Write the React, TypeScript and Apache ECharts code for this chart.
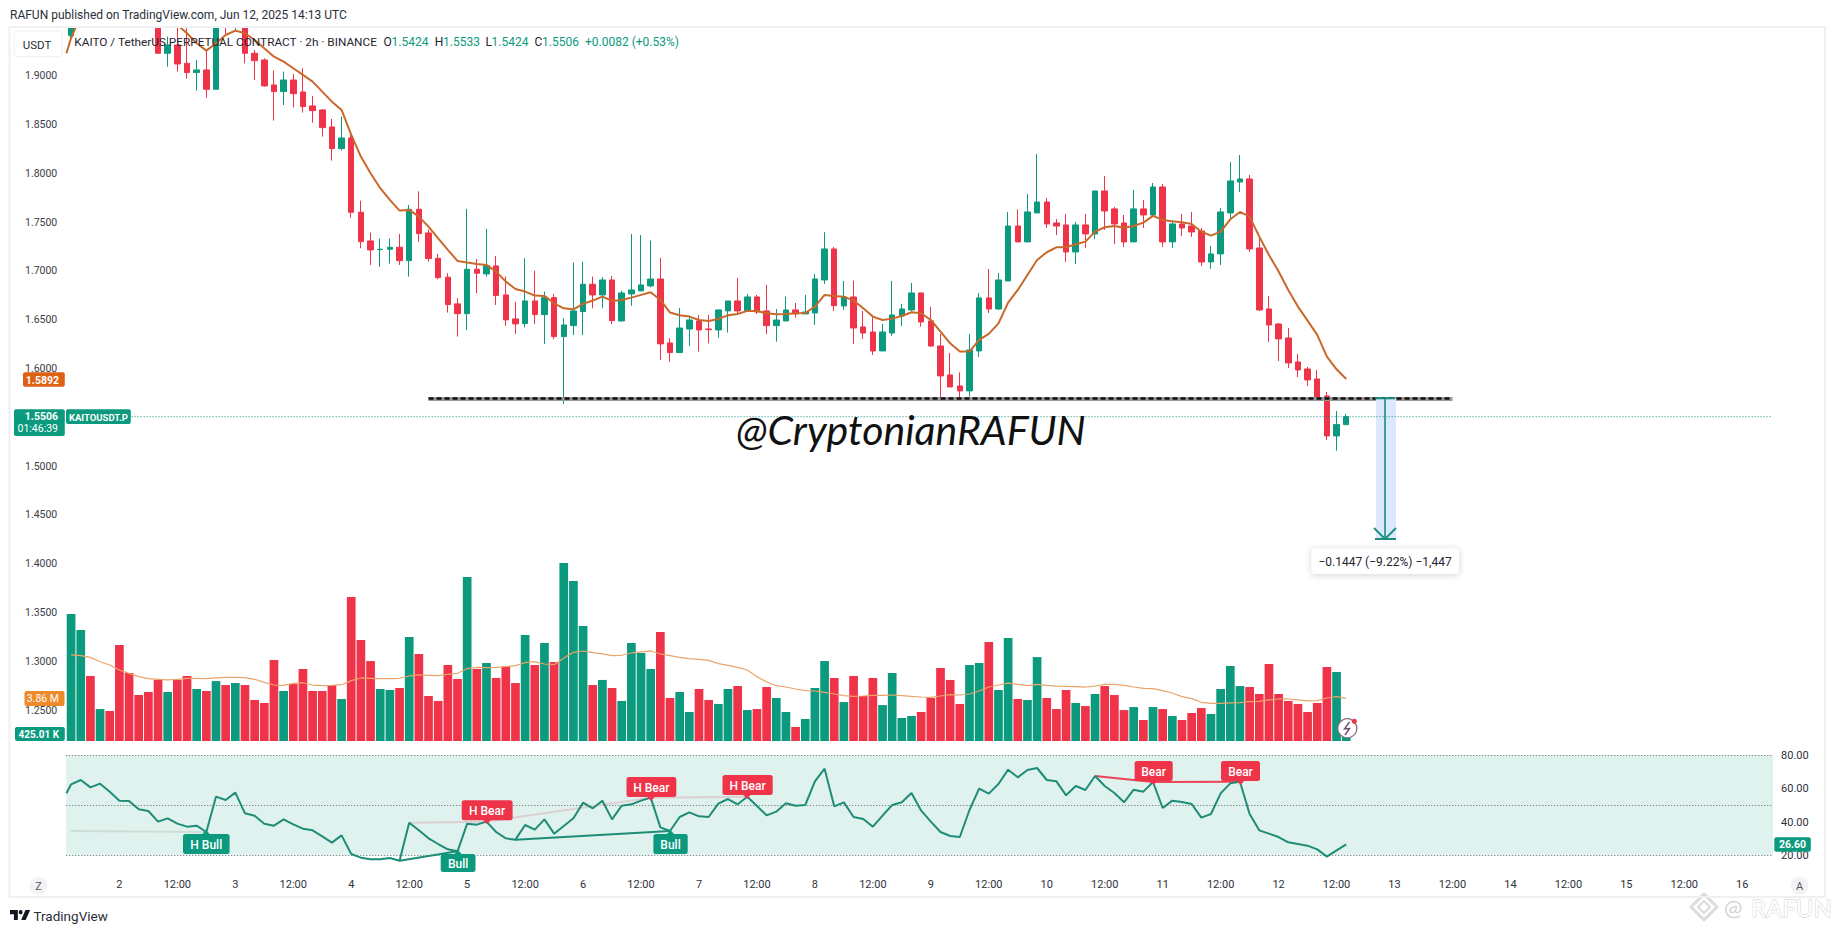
import React, { useEffect, useRef } from "react";
import * as echarts from "echarts";

const UP = "#0b9a7e";
const DOWN = "#ef3349";
const TOTAL_SLOTS = 177;

// [open, close, low, high]
const candles: number[][] = [
  [1.941,1.97,1.936,1.975],[1.97,1.99,1.965,1.995],[1.99,1.985,1.98,2.0],[1.985,2.0,1.98,2.01],[2.0,1.995,1.985,2.01],
  [1.995,1.99,1.98,2.0],[1.99,1.985,1.975,1.995],[1.985,1.98,1.97,1.99],[1.98,1.97,1.96,1.985],[1.97,1.9229,1.9229,1.975],
  [1.9229,1.9314,1.9092,1.9399],[1.9314,1.9119,1.9041,1.957],[1.9126,1.9031,1.8969,1.9485],[1.9031,1.9058,1.8846,1.916],[1.9058,1.886,1.8774,1.9263],
  [1.886,1.96,1.886,1.97],[1.97,1.96,1.9423,1.98],[1.955,1.965,1.9451,1.975],[1.965,1.9229,1.9126,1.97],[1.9229,1.9153,1.8955,1.9263],
  [1.916,1.8894,1.8887,1.9177],[1.8904,1.8836,1.8539,1.9051],[1.8836,1.8955,1.8699,1.9041],[1.8955,1.8815,1.8675,1.9017],[1.8832,1.8682,1.8621,1.9075],
  [1.8689,1.8641,1.8518,1.8791],[1.8648,1.8467,1.8375,1.8655],[1.8474,1.8252,1.8129,1.8556],[1.8252,1.8361,1.8231,1.858],[1.8361,1.76,1.7545,1.8392],
  [1.76,1.7299,1.7231,1.7719],[1.7306,1.7214,1.706,1.7391],[1.7217,1.7221,1.704,1.733],[1.7221,1.7241,1.7074,1.733],[1.7241,1.7104,1.706,1.7378],
  [1.7104,1.763,1.6941,1.7675],[1.763,1.7381,1.7299,1.7815],[1.7388,1.7125,1.7094,1.7425],[1.7128,1.693,1.6913,1.7173],[1.6934,1.6654,1.6572,1.6975],
  [1.6661,1.6561,1.6326,1.6719],[1.6561,1.7016,1.6394,1.7634],[1.7016,1.6975,1.677,1.7122],[1.6968,1.7053,1.6941,1.7429],[1.705,1.6746,1.665,1.7152],
  [1.6753,1.6497,1.6435,1.6941],[1.6507,1.6456,1.6353,1.6684],[1.6459,1.6691,1.6421,1.7128],[1.6691,1.6551,1.6456,1.7],[1.6551,1.6725,1.6251,1.6787],
  [1.6725,1.6326,1.6299,1.6763],[1.6326,1.6445,1.5636,1.6514],[1.6438,1.6589,1.6343,1.7084],[1.6582,1.6862,1.6343,1.7094],[1.6862,1.6753,1.6616,1.6941],
  [1.6753,1.6906,1.6616,1.6934],[1.6906,1.649,1.6455,1.6947],[1.6486,1.6773,1.6479,1.6797],[1.6763,1.6804,1.6643,1.7378],[1.6794,1.6855,1.6794,1.7367],
  [1.6845,1.6916,1.6831,1.7309],[1.6916,1.6251,1.6087,1.7132],[1.6261,1.6162,1.607,1.6309],[1.6162,1.6414,1.6162,1.6619],[1.6404,1.6496,1.623,1.6541],
  [1.6486,1.6394,1.6172,1.6548],[1.6404,1.6397,1.6257,1.6548],[1.6394,1.6599,1.6315,1.6599],[1.6589,1.6691,1.6367,1.6691],[1.6691,1.6589,1.6558,1.6927],
  [1.6589,1.6732,1.6578,1.6763],[1.6732,1.6578,1.6558,1.6753],[1.6589,1.6438,1.635,1.6855],[1.6438,1.6496,1.6274,1.6609],[1.6486,1.6599,1.6486,1.6736],
  [1.6599,1.6558,1.652,1.6671],[1.6558,1.6578,1.6558,1.6753],[1.6568,1.6916,1.6445,1.6968],[1.6906,1.7224,1.6865,1.7395],[1.7224,1.6643,1.6589,1.7244],
  [1.664,1.6732,1.6599,1.6896],[1.6732,1.6414,1.6251,1.6899],[1.6425,1.6363,1.6302,1.6589],[1.6373,1.6179,1.6138,1.6527],[1.6179,1.6373,1.6179,1.6455],
  [1.6363,1.6548,1.6333,1.6896],[1.6538,1.6609,1.6435,1.666],[1.6599,1.6773,1.6589,1.6876],[1.6773,1.6476,1.6428,1.6773],[1.6486,1.623,1.622,1.663],
  [1.623,1.5923,1.5677,1.6353],[1.5933,1.581,1.581,1.6158],[1.582,1.5769,1.5684,1.596],[1.5769,1.6189,1.5711,1.6353],[1.6179,1.6722,1.6117,1.6773],
  [1.6722,1.6609,1.6568,1.7019],[1.6609,1.6906,1.6599,1.6978],[1.6896,1.7459,1.6896,1.7603],[1.7459,1.7296,1.7296,1.763],[1.7296,1.7603,1.7296,1.7787],
  [1.7593,1.7705,1.7593,1.8197],[1.7705,1.748,1.7439,1.7746],[1.749,1.7459,1.7367,1.7531],[1.747,1.7193,1.7091,1.7582],[1.7193,1.747,1.707,1.75],
  [1.747,1.7378,1.7234,1.7582],[1.7378,1.7818,1.7326,1.7818],[1.7818,1.7613,1.7419,1.7972],[1.7634,1.748,1.7275,1.7654],[1.749,1.7296,1.7244,1.7572],
  [1.7296,1.7634,1.7296,1.7828],[1.7634,1.7572,1.7439,1.7726],[1.7572,1.7859,1.7562,1.79],[1.7859,1.7296,1.7244,1.789],[1.7296,1.748,1.7234,1.7511],
  [1.748,1.7439,1.7357,1.7582],[1.7459,1.7398,1.7347,1.7603],[1.7408,1.7091,1.705,1.7439],[1.7091,1.7173,1.7019,1.7255],[1.7173,1.7603,1.706,1.7644],
  [1.7593,1.7921,1.7541,1.8115],[1.791,1.7941,1.7808,1.8187],[1.7941,1.7224,1.7193,1.7982],[1.7234,1.6599,1.6589,1.7347],[1.6609,1.6445,1.6271,1.6742],
  [1.6455,1.6302,1.6076,1.6466],[1.6312,1.6056,1.6005,1.6414],[1.6066,1.5984,1.5912,1.6148],[1.5994,1.5882,1.582,1.6015],[1.5892,1.5697,1.5697,1.5984],
  [1.5718,1.5308,1.5267,1.5759],[1.5308,1.5424,1.5158,1.5564],[1.5424,1.5506,1.5424,1.5533],
];

const priceMA: number[] = [
  1.9382,1.962,1.98,1.99,1.995,1.99,1.985,1.98,1.975,1.968,
  1.96,1.9519,1.9434,1.9331,1.9256,1.9331,1.9416,1.9461,1.9434,1.9365,
  1.928,1.9194,1.9143,1.9075,1.9007,1.8938,1.8836,1.8733,1.8648,1.8392,
  1.817,1.7999,1.7846,1.7726,1.7617,1.7624,1.7555,1.7453,1.7333,1.7214,
  1.7101,1.7084,1.707,1.706,1.6992,1.6889,1.6814,1.6787,1.6746,1.6743,
  1.6667,1.6616,1.6606,1.6661,1.6695,1.6736,1.6691,1.6701,1.6725,1.6753,
  1.678,1.6701,1.6572,1.6544,1.6531,1.6496,1.6486,1.6507,1.6544,1.6558,
  1.6589,1.6589,1.6565,1.6555,1.6558,1.6565,1.6568,1.6633,1.6753,1.6742,
  1.6735,1.6695,1.6616,1.6531,1.6496,1.651,1.6537,1.6575,1.6565,1.6496,
  1.6377,1.6257,1.6172,1.6172,1.6292,1.6353,1.6462,1.6674,1.6804,1.6957,
  1.7111,1.719,1.7241,1.7241,1.7272,1.7299,1.7401,1.7446,1.7459,1.7442,
  1.7459,1.7494,1.7562,1.7521,1.7507,1.7497,1.748,1.7401,1.736,1.7401,
  1.7528,1.7603,1.7555,1.735,1.7162,1.6992,1.6804,1.6633,1.649,1.6343,
  1.6121,1.5991,1.5892,
];

// millions
const volumes: number[] = [
  11.48,10.04,5.88,2.89,2.71,8.68,6.15,4.16,4.43,5.52,
  4.43,5.52,5.88,4.7,4.52,5.42,5.06,5.24,5.06,3.71,
  3.44,7.32,4.52,5.15,6.51,4.52,4.52,5.06,3.8,13.02,
  9.13,7.23,4.7,4.61,4.79,9.4,7.87,4.07,3.62,6.87,
  5.61,14.83,6.51,7.05,5.7,6.75,5.24,9.58,6.87,8.86,
  7.14,16.09,14.47,10.4,5.06,5.52,4.79,3.62,8.86,7.96,
  6.51,9.86,3.89,4.43,2.62,4.7,3.71,3.35,4.7,4.97,
  2.8,2.89,4.88,3.89,2.62,1.27,1.99,4.79,7.23,5.7,
  3.53,5.88,4.07,5.7,3.25,6.15,2.08,2.26,2.62,3.89,
  6.6,5.52,3.35,6.87,7.05,8.95,4.61,9.31,3.8,3.71,
  7.59,3.89,2.89,4.61,3.44,3.16,4.25,4.97,4.16,2.8,
  3.07,1.9,3.07,2.89,2.26,1.9,2.53,2.98,2.44,4.7,
  6.78,4.97,4.88,4.25,6.96,4.25,3.62,3.35,2.62,3.44,
  6.69,6.24,0.425,
];

const volumeMA: number[] = [
  7.78,7.72,7.56,7.17,6.87,6.42,6.12,5.82,5.64,5.58,
  5.52,5.58,5.67,5.67,5.64,5.7,5.76,5.76,5.73,5.58,
  5.3,5.06,5.03,5.21,5.27,5.06,5.0,5.03,5.09,5.46,
  5.7,5.67,5.64,5.64,5.67,5.88,5.97,5.94,5.91,6.03,
  6.12,6.54,6.66,6.63,6.66,6.72,6.81,7.08,7.17,6.96,
  6.9,7.5,8.02,8.14,7.99,7.87,7.72,7.75,7.96,8.05,
  8.14,7.87,7.72,7.56,7.44,7.38,7.29,6.99,6.84,6.66,
  6.42,5.82,5.33,5.0,4.88,4.7,4.55,4.52,4.4,4.25,
  4.1,4.04,4.07,4.13,4.13,4.16,4.1,4.04,3.98,3.95,
  4.07,4.19,4.16,4.25,4.52,4.88,5.06,5.24,5.12,5.0,
  5.12,5.03,4.97,4.94,4.91,4.88,4.97,5.12,5.12,5.03,
  4.88,4.76,4.73,4.55,4.34,4.01,3.83,3.5,3.41,3.41,
  3.44,3.47,3.56,3.59,3.71,3.8,3.8,3.71,3.62,3.65,
  3.89,4.01,3.86,
];

const rsi: number[] = [
  62.6,65.2,60.8,63.0,58.2,52.8,52.6,47.6,46.6,40.2,
  42.2,39.0,37.2,37.8,34.0,55.2,53.2,57.6,45.2,43.8,
  39.0,37.8,41.6,38.6,36.0,35.0,31.4,27.6,32.0,20.8,
  18.6,17.6,17.6,18.4,16.8,39.6,35.0,30.2,26.8,23.6,
  22.4,39.0,38.4,40.2,34.0,30.2,29.4,38.2,35.4,41.6,
  33.0,37.6,42.2,51.6,48.2,52.8,41.6,49.8,50.6,52.8,
  54.6,36.8,34.6,43.0,45.8,43.4,43.0,51.0,53.8,50.6,
  55.2,49.6,44.0,46.2,51.2,49.8,50.2,64.4,72.0,49.4,
  51.8,43.0,41.8,37.2,43.8,50.2,51.8,57.4,46.8,40.2,
  34.0,31.6,31.0,47.2,60.0,57.0,62.8,71.4,66.8,71.2,
  72.4,65.2,64.4,56.0,61.6,59.2,67.6,61.6,57.4,51.8,
  59.4,58.2,64.0,48.4,52.8,52.0,50.8,42.6,44.8,57.2,
  63.2,64.2,44.8,35.0,33.0,31.0,27.8,26.8,25.8,23.6,
  19.2,23.0,26.6,
];

const tickLabels: string[] = [
  "2","12:00","3","12:00","4","12:00","5","12:00","6","12:00",
  "7","12:00","8","12:00","9","12:00","10","12:00","11","12:00",
  "12","12:00","13","12:00","14","12:00","15","12:00","16",
];
const FIRST_TICK_SLOT = 5;
const TICK_STEP = 6;

const categories: string[] = [];
for (let i = 0; i < TOTAL_SLOTS; i++) {
  const h = 14 + i * 2;
  categories.push(`Jun ${1 + Math.floor(h / 24)} ${String(h % 24).padStart(2, "0")}:00`);
}
const tickBySlot: Record<string, string> = {};
tickLabels.forEach((t, k) => {
  tickBySlot[categories[FIRST_TICK_SLOT + k * TICK_STEP]] = t;
});

const SUPPORT_LEVEL = 1.5694;
const SUPPORT_FROM = 37;
const SUPPORT_TO = 143;
const HIDDEN_BULL_START = 34.6;

echarts.graphic.registerShape(
  "tvlogo",
  echarts.graphic.extendPath(
    "M14 6H0v7h7v9h7V6zM28 22h-8l7.5-16h8.5L28 22zM22.5 9.5a3.5 3.5 0 1 1-7 0a3.5 3.5 0 0 1 7 0z",
    {}
  )
);

const SANS = "Roboto, 'Noto Sans', sans-serif";
const txt = (
  text: string,
  x: number,
  y: number,
  font: string,
  fill: string,
  align: string = "left",
  extra: any = {}
) => ({
  type: "text",
  x,
  y,
  z: 120,
  style: { text, font, fill, align, verticalAlign: "middle", ...extra },
});
const box = (x: number, y: number, w: number, h: number, fill: string, r = 2, extra: any = {}) => ({
  type: "rect",
  z: 110,
  shape: { x, y, width: w, height: h, r },
  style: { fill, ...extra },
});
const signal = (x: number, y: number, w: number, h: number, fill: string, label: string, tipX: number, up: boolean) => [
  {
    type: "polygon",
    z: 110,
    shape: {
      points: up
        ? [[tipX - 4, y + 0.5], [tipX + 4, y + 0.5], [tipX, y - 4]]
        : [[tipX - 4, y + h - 0.5], [tipX + 4, y + h - 0.5], [tipX, y + h + 4]],
    },
    style: { fill },
  },
  box(x, y, w, h, fill, 2.5),
  txt(label, x + w / 2, y + h / 2 + 0.5, `500 12px ${SANS}`, "#ffffff", "center"),
];

const buildGraphics = () => [
  // header strip: hides the parts of the marks that run above the pane
  { type: "rect", z: 100, shape: { x: 0, y: 0, width: 1835, height: 26.6 }, style: { fill: "#ffffff" } },
  // panel frame
  { type: "rect", z: 105, shape: { x: 9.5, y: 27, width: 1815.5, height: 870 }, style: { fill: "none", stroke: "#eef0f4", lineWidth: 2 } },
  // clean right edge of the oscillator band
  { type: "rect", z: 100, shape: { x: 1773, y: 745, width: 4, height: 120 }, style: { fill: "#ffffff" } },

  // lines entering from the bar just left of the pane
  { type: "line", z: 50, shape: { x1: 66.4, y1: 53.3, x2: 71.1, y2: 38 }, style: { stroke: "#c9682a", lineWidth: 2 } },
  { type: "line", z: 50, shape: { x1: 66.4, y1: 793.3, x2: 71.1, y2: 784.3 }, style: { stroke: "#1f8c78", lineWidth: 2 } },

  txt("RAFUN published on TradingView.com, Jun 12, 2025 14:13 UTC", 10, 15, `12px ${SANS}`, "#2a2e39"),

  // symbol legend
  txt("KAITO / TetherUS PERPETUAL CONTRACT · 2h · BINANCE", 74.3, 42, `11.8px ${SANS}`, "#1f2330"),
  txt("O", 383.5, 42, `12px ${SANS}`, "#1f2330"),
  txt("1.5424", 391.5, 42, `12px ${SANS}`, UP),
  txt("H", 434.8, 42, `12px ${SANS}`, "#1f2330"),
  txt("1.5533", 443, 42, `12px ${SANS}`, UP),
  txt("L", 485.4, 42, `12px ${SANS}`, "#1f2330"),
  txt("1.5424", 491.5, 42, `12px ${SANS}`, UP),
  txt("C", 534.4, 42, `12px ${SANS}`, "#1f2330"),
  txt("1.5506", 542, 42, `12px ${SANS}`, UP),
  txt("+0.0082 (+0.53%)", 585, 42, `12px ${SANS}`, UP),

  // currency button
  box(14, 31, 48, 25.7, "#ffffff", 3, { stroke: "#eceef2", lineWidth: 1 }),
  txt("USDT", 37, 44.5, `11.5px ${SANS}`, "#2a2e39", "center"),

  // last price
  { type: "line", z: 90, shape: { x1: 131.6, y1: 416.7, x2: 1771, y2: 416.7 }, style: { stroke: "#0b8a80", lineWidth: 1, lineDash: [1, 2] } },
  box(14, 409.3, 50.8, 26.7, UP),
  txt("1.5506", 58, 416.8, `700 10.5px ${SANS}`, "#ffffff", "right"),
  txt("01:46:39", 58, 428.8, `10.5px ${SANS}`, "#ffffff", "right"),
  box(66, 409.3, 64.8, 14.7, UP),
  txt("KAITOUSDT.P", 98.4, 417, `700 9.5px ${SANS}`, "#ffffff", "center"),

  box(23, 372.3, 41.8, 14.4, "#dd6115"),
  txt("1.5892", 59, 380, `700 10.5px ${SANS}`, "#ffffff", "right"),

  box(24.5, 691, 40, 15, "#ee8a2a"),
  txt("3.86 M", 59, 698.8, `10.5px ${SANS}`, "#ffffff", "right"),
  box(15, 727, 49.8, 14, UP),
  txt("425.01 K", 59, 734.4, `700 10px ${SANS}`, "#ffffff", "right"),

  box(1774.3, 837.3, 36.5, 14.4, UP),
  txt("26.60", 1792.5, 844.8, `700 10.5px ${SANS}`, "#ffffff", "center"),

  // author handle
  txt("@CryptonianRAFUN", 736, 429, `italic 41px Lato, 'Open Sans', sans-serif`, "#111111"),

  // measure tool
  { type: "rect", z: 80, shape: { x: 1376, y: 398.3, width: 20, height: 140.7 }, style: { fill: "#dce8fd" } },
  { type: "line", z: 91, shape: { x1: 1385, y1: 398.3, x2: 1385, y2: 539 }, style: { stroke: "#1b8f7c", lineWidth: 1.6 } },
  { type: "line", z: 91, shape: { x1: 1375, y1: 398.3, x2: 1395, y2: 398.3 }, style: { stroke: "#1b8f7c", lineWidth: 2 } },
  { type: "line", z: 91, shape: { x1: 1375, y1: 539, x2: 1396, y2: 539 }, style: { stroke: "#1b8f7c", lineWidth: 2 } },
  { type: "polyline", z: 91, shape: { points: [[1374, 528], [1385, 539], [1396, 528]] }, style: { stroke: "#1b8f7c", lineWidth: 1.8, fill: "none" } },
  {
    type: "rect",
    z: 95,
    shape: { x: 1311.5, y: 548.5, width: 147.5, height: 25.5, r: 4 },
    style: { fill: "#ffffff", shadowBlur: 6, shadowColor: "rgba(40,50,70,0.22)", shadowOffsetY: 1 },
  },
  txt("−0.1447 (−9.22%) −1,447", 1385, 561.5, `12px ${SANS}`, "#1f2330", "center"),

  // replay bolt
  { type: "circle", z: 110, shape: { cx: 1347.3, cy: 728.3, r: 9.5 }, style: { fill: "#ffffff", stroke: "#8a6d86", lineWidth: 1.3 } },
  { type: "polyline", z: 111, shape: { points: [[1349.5, 722], [1344.5, 729], [1349.5, 728.5], [1345, 735]] }, style: { stroke: "#6e4f70", lineWidth: 1.4, fill: "none" } },
  { type: "circle", z: 112, shape: { cx: 1354.3, cy: 721.3, r: 2.6 }, style: { fill: DOWN } },

  // oscillator signals
  ...signal(183, 834, 46.6, 20, UP, "H Bull", 206, true),
  ...signal(440.7, 854, 34.8, 18, UP, "Bull", 458, true),
  ...signal(461.7, 800.3, 50.9, 20, DOWN, "H Bear", 487, false),
  ...signal(626.5, 777, 49.8, 20, DOWN, "H Bear", 651, false),
  ...signal(722.5, 775, 50.2, 20, DOWN, "H Bear", 747, false),
  ...signal(653.4, 834, 34.3, 20, UP, "Bull", 670.5, true),
  ...signal(1134.6, 761, 38.1, 20, DOWN, "Bear", 1153.5, false),
  ...signal(1221, 761, 39, 20, DOWN, "Bear", 1240.5, false),

  // corner buttons
  { type: "circle", z: 110, shape: { cx: 38.5, cy: 885.7, r: 9 }, style: { fill: "#f3f3f5" } },
  txt("Z", 38.5, 886, `11px ${SANS}`, "#55585f", "center"),
  { type: "circle", z: 110, shape: { cx: 1799.5, cy: 885.7, r: 9 }, style: { fill: "#f3f3f5" } },
  txt("A", 1799.5, 886, `11px ${SANS}`, "#55585f", "center"),

  // footer logo
  { type: "tvlogo", z: 110, x: 10, y: 906.3, scaleX: 0.56, scaleY: 0.62, style: { fill: "#131722" } },
  txt("TradingView", 33.5, 915.5, `13.5px ${SANS}`, "#2a2e39"),

  // corner watermark
  {
    type: "polygon",
    z: 60,
    shape: { points: [[1704, 894], [1717, 907], [1704, 920], [1691, 907]] },
    style: { fill: "none", stroke: "#dcdcdc", lineWidth: 3 },
  },
  {
    type: "polygon",
    z: 60,
    shape: { points: [[1704, 901], [1710, 907], [1704, 913], [1698, 907]] },
    style: { fill: "none", stroke: "#dcdcdc", lineWidth: 2 },
  },
  txt("@", 1724, 907, `22px Lato, ${SANS}`, "#d4d4d4"),
  txt("RAFUN", 1751, 907, `24px Lato, ${SANS}`, "#ffffff", "left", { stroke: "#cfcfcf", lineWidth: 1 }),
];

const hidden = { show: false };
const divergence = (a: number, b: number, color: string, width: number) => [
  { coord: [a, rsi[a]], lineStyle: { color, width, type: "solid" } },
  { coord: [b, rsi[b]] },
];
const DOTTED = { color: "#5f626b", width: 1, type: [1, 2] };

const option: any = {
  animation: false,
  backgroundColor: "#ffffff",
  grid: [
    { left: 66.27, top: 26.8, width: 1709.82, height: 732 },
    { left: 66.27, top: 475.56, width: 1709.82, height: 265.44 },
    { left: 66.27, top: 722, width: 1709.82, height: 166.67 },
  ],
  xAxis: [
    { type: "category", gridIndex: 0, data: categories, axisLine: hidden, axisTick: hidden, axisLabel: hidden, splitLine: hidden },
    { type: "category", gridIndex: 1, data: categories, axisLine: hidden, axisTick: hidden, axisLabel: hidden, splitLine: hidden },
    {
      type: "category",
      gridIndex: 2,
      data: categories,
      axisLine: hidden,
      axisTick: hidden,
      splitLine: hidden,
      axisLabel: {
        margin: -10,
        color: "#2f323b",
        fontFamily: "Roboto, sans-serif",
        fontSize: 11,
        interval: (_: number, v: string) => v in tickBySlot,
        formatter: (v: string) => tickBySlot[v] ?? "",
        hideOverlap: false,
      },
    },
  ],
  yAxis: [
    {
      type: "value",
      gridIndex: 0,
      position: "left",
      min: 1.2,
      max: 1.95,
      interval: 0.05,
      axisLine: hidden,
      axisTick: hidden,
      splitLine: hidden,
      axisLabel: {
        margin: 9,
        color: "#3a3d46",
        fontFamily: "Roboto, sans-serif",
        fontSize: 10.5,
        formatter: (v: number) =>
          Math.abs(v - 1.2) < 0.001 || Math.abs(v - 1.95) < 0.001 || Math.abs(v - 1.55) < 0.001 ? "" : v.toFixed(4),
      },
    },
    { type: "value", gridIndex: 1, min: 0, max: 24, show: false },
    {
      type: "value",
      gridIndex: 2,
      position: "right",
      min: 0,
      max: 100,
      interval: 20,
      axisLine: hidden,
      axisTick: hidden,
      splitLine: hidden,
      axisLabel: {
        margin: 5,
        color: "#2f323b",
        fontFamily: "Roboto, sans-serif",
        fontSize: 11,
        formatter: (v: number) => (v === 0 || v === 100 ? "" : v.toFixed(2)),
      },
    },
  ],
  graphic: { elements: buildGraphics() },
  series: [
    {
      type: "bar",
      name: "Volume",
      xAxisIndex: 1,
      yAxisIndex: 1,
      barWidth: 8.7,
      z: 1,
      silent: true,
      data: volumes.map((v, i) => ({
        value: v,
        itemStyle: { color: candles[i][1] >= candles[i][0] ? UP : DOWN },
      })),
    },
    {
      type: "line",
      name: "Volume MA",
      xAxisIndex: 1,
      yAxisIndex: 1,
      data: volumeMA,
      showSymbol: false,
      z: 3,
      silent: true,
      lineStyle: { color: "#eba469", width: 1.2 },
    },
    {
      type: "candlestick",
      name: "KAITOUSDT.P",
      xAxisIndex: 0,
      yAxisIndex: 0,
      data: candles,
      barWidth: 6,
      z: 4,
      silent: true,
      itemStyle: { color: UP, color0: DOWN, borderColor: UP, borderColor0: DOWN, borderWidth: 1 },
    },
    {
      type: "line",
      name: "MA",
      xAxisIndex: 0,
      yAxisIndex: 0,
      data: priceMA,
      showSymbol: false,
      z: 5,
      silent: true,
      lineStyle: { color: "#c9682a", width: 2 },
      markLine: {
        silent: true,
        symbol: "none",
        animation: false,
        label: hidden,
        data: [
          [
            { coord: [SUPPORT_FROM, SUPPORT_LEVEL], lineStyle: { color: "#9a9a9a", width: 4, type: "solid" } },
            { coord: [SUPPORT_TO, SUPPORT_LEVEL] },
          ],
          [
            { coord: [SUPPORT_FROM, SUPPORT_LEVEL], lineStyle: { color: "#111111", width: 2.6, type: [5, 3] } },
            { coord: [SUPPORT_TO, SUPPORT_LEVEL] },
          ],
        ],
      },
    },
    {
      type: "line",
      name: "RSI",
      xAxisIndex: 2,
      yAxisIndex: 2,
      data: rsi,
      showSymbol: false,
      z: 6,
      silent: true,
      lineStyle: { color: "#1f8c78", width: 2 },
      markArea: {
        silent: true,
        animation: false,
        itemStyle: { color: "#dff2ee" },
        data: [[{ yAxis: 80 }, { yAxis: 20 }]],
      },
      markLine: {
        silent: true,
        symbol: "none",
        animation: false,
        label: hidden,
        data: [
          { yAxis: 80, lineStyle: DOTTED },
          { yAxis: 50, lineStyle: DOTTED },
          { yAxis: 20, lineStyle: DOTTED },
          [
            { coord: [0, HIDDEN_BULL_START], lineStyle: { color: "#cfdcd8", width: 2, type: "solid" } },
            { coord: [14, rsi[14]] },
          ],
          divergence(34, 40, "#1f8c78", 2),
          divergence(35, 43, "#dcd0d2", 2),
          divergence(43, 60, "#dcd0d2", 2),
          divergence(60, 70, "#dcd0d2", 2),
          divergence(46, 62, "#1f8c78", 2),
          divergence(106, 112, "#ec4255", 2),
          divergence(112, 121, "#ec4255", 2),
        ],
      },
    },
  ],
};

export default function App() {
  const ref = useRef<HTMLDivElement>(null);
  useEffect(() => {
    document.body.style.margin = "0";
    document.body.style.background = "#ffffff";
    const chart = echarts.init(ref.current!, undefined, { renderer: "svg", width: 1835, height: 933 });
    chart.setOption(option);
    return () => chart.dispose();
  }, []);
  return <div ref={ref} style={{ width: 1835, height: 933, overflow: "hidden" }} />;
}
